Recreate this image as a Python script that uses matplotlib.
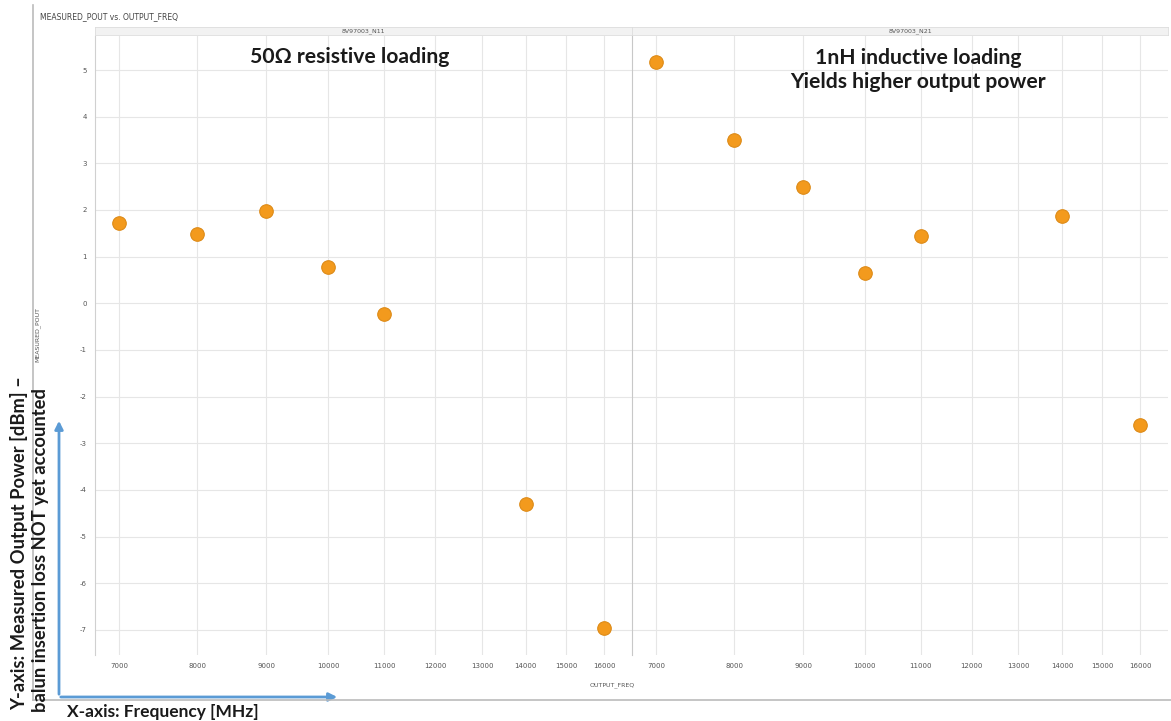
import matplotlib
matplotlib.use("Agg")
import matplotlib.pyplot as plt
from matplotlib.ticker import FixedLocator, FixedFormatter, NullLocator

plt.rcParams["axes.unicode_minus"] = False

# data
freq_n11 = [7000, 8000, 9000, 10000, 11000, 14000, 16000]
pout_n11 = [1.73, 1.49, 1.98, 0.78, -0.22, -4.31, -6.97]
freq_n21 = [7000, 8000, 9000, 10000, 11000, 14000, 16000]
pout_n21 = [5.17, 3.50, 2.49, 0.64, 1.45, 1.87, -2.62]

panel_names = ["8V97003_N11", "8V97003_N21"]
xticks = [7000, 8000, 9000, 10000, 11000, 12000, 13000, 14000, 15000, 16000]
yticks = [5, 4, 3, 2, 1, 0, -1, -2, -3, -4, -5, -6, -7]

W, H = 1171, 721
fig = plt.figure(figsize=(W / 100, H / 100), dpi=100)

def fx(px):
    return px / W

def fy(py):
    return 1 - py / H

dot = "#F39A1D"
dot_edge = "#DD8A17"
grid_c = "#E6E6E6"

panels = [(95, 632, freq_n11, pout_n11), (632, 1168, freq_n21, pout_n21)]
axes = []
for i, (x0, x1, fr, pw) in enumerate(panels):
    ax = fig.add_axes([fx(x0), fy(655), fx(x1 - x0), (655 - 36) / H])
    ax.scatter(fr, pw, s=95, color=dot, edgecolors=dot_edge, linewidths=0.8, zorder=3)
    ax.set_xscale("log")
    ax.set_xlim(6720, 16780)
    ax.set_ylim(-7.54, 5.73)
    ax.xaxis.set_major_locator(FixedLocator(xticks))
    ax.xaxis.set_major_formatter(FixedFormatter([str(t) for t in xticks]))
    ax.xaxis.set_minor_locator(NullLocator())
    ax.set_yticks(yticks)
    ax.grid(True, color=grid_c, linewidth=0.8)
    ax.set_axisbelow(True)
    ax.tick_params(length=0, labelsize=5, colors="#555555", pad=6)
    if i == 1:
        ax.tick_params(axis="y", labelleft=False)
    for side in ["top", "right", "bottom"]:
        ax.spines[side].set_visible(False)
    ax.spines["left"].set_color("#D0D0D0" if i == 0 else "#C8C8C8")
    ax.spines["left"].set_linewidth(0.8)
    axes.append(ax)

    # strip header
    sx = fig.add_axes([fx(x0), fy(35), fx(x1 - x0), 8 / H])
    sx.set_xticks([])
    sx.set_yticks([])
    sx.set_facecolor("#F2F2F2")
    for sp in sx.spines.values():
        sp.set_color("#DDDDDD")
        sp.set_linewidth(0.6)
    sx.text(0.5 if i == 0 else 0.52, 0.5, panel_names[i], transform=sx.transAxes,
            ha="center", va="center", fontsize=4.5, color="#555555")

# titles and axis names from the tool
fig.text(fx(40), fy(17), "MEASURED_POUT vs. OUTPUT_FREQ", fontsize=5.5, color="#444444",
         ha="left", va="center")
fig.text(fx(612), fy(685), "OUTPUT_FREQ", fontsize=4.5, color="#555555", ha="center", va="center")
fig.text(fx(38), fy(335), "MEASURED_POUT", fontsize=4.5, color="#555555", rotation=90,
         ha="center", va="center")

# outer frame lines
fig.add_artist(plt.Line2D([fx(33), fx(33)], [fy(5), fy(700)], color="#BBBBBB", linewidth=1.2))
fig.add_artist(plt.Line2D([fx(33), fx(1171)], [fy(700), fy(700)], color="#BBBBBB", linewidth=1.2))

# annotations
fig.text(fx(350), fy(57), "50Ω resistive loading", fontsize=15.2, fontweight="bold",
         family=["Lato", "DejaVu Sans"], color="#1A1A1A", ha="center", va="center")
fig.text(fx(918), fy(70), "1nH inductive loading\nYields higher output power", fontsize=15.2,
         fontweight="bold", family=["Lato", "DejaVu Sans"], color="#1A1A1A", ha="center",
         va="center", linespacing=1.25)

fig.text(fx(19), fy(543), "Y-axis: Measured Output Power [dBm] –", fontsize=13.2, fontweight="bold",
         family=["Lato", "DejaVu Sans"], color="#1A1A1A", rotation=90, ha="center", va="center")
fig.text(fx(41), fy(550), "balun insertion loss NOT yet accounted", fontsize=13.2, fontweight="bold",
         family=["Lato", "DejaVu Sans"], color="#1A1A1A", rotation=90, ha="center", va="center")
fig.text(fx(67), fy(712), "X-axis: Frequency [MHz]", fontsize=12.5, fontweight="bold",
         family=["Lato", "DejaVu Sans"], color="#1A1A1A", ha="left", va="center")

# blue arrows
arrow_c = "#5B9BD5"
fig.add_artist(matplotlib.patches.FancyArrowPatch((fx(59), fy(697)), (fx(59), fy(418)),
               transform=fig.transFigure, arrowstyle="-|>", mutation_scale=12,
               color=arrow_c, linewidth=2))
fig.add_artist(matplotlib.patches.FancyArrowPatch((fx(58), fy(697)), (fx(340), fy(697)),
               transform=fig.transFigure, arrowstyle="-|>", mutation_scale=12,
               color=arrow_c, linewidth=2))

fig.savefig("out.png", dpi=100)
